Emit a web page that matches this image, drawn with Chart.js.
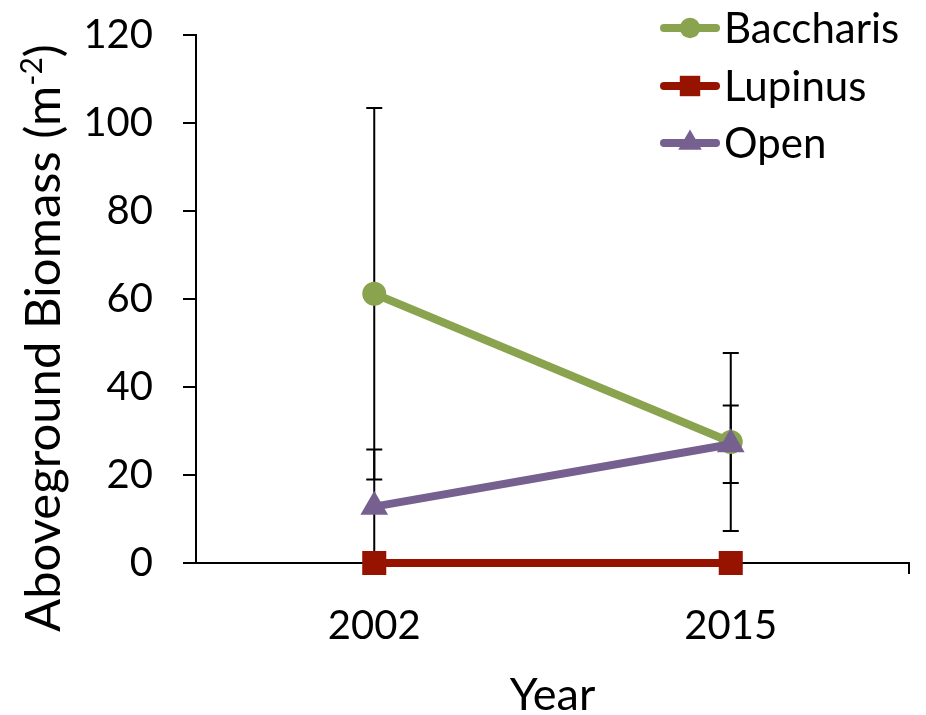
<!DOCTYPE html>
<html>
<head>
<meta charset="utf-8">
<script src="https://cdn.jsdelivr.net/npm/chart.js@4"></script>
<style>
  html, body { margin: 0; padding: 0; background: #fff; }
  #wrap { width: 926px; height: 715px; }
</style>
</head>
<body>
<div id="wrap"><canvas id="c" width="926" height="715"></canvas></div>
<script>
// Aboveground biomass by cover type, with error bars
const years = ['2002', '2015'];
const seriesNames = ['Baccharis', 'Lupinus', 'Open'];
const baccharis = [61.2, 27.5];
const baccharisErr = [42.2, 20.2];
const lupinus = [0, 0];
const lupinusErr = [0, 0];
const openPlots = [12.8, 27.0];
const openErr = [13.0, 8.8];
const yTicks = [0, 20, 40, 60, 80, 100, 120];
const xTitle = 'Year';
const yTitleMain = 'Aboveground Biomass (m';
const yTitleSup = '-2';
const yTitleEnd = ')';

const GREEN = '#8aa34e';
const RED = '#961300';
const PURPLE = '#76608f';
const FONT = 'Lato';

function drawMarker(ctx, style, r, x, y, color) {
  ctx.save();
  ctx.fillStyle = color;
  ctx.beginPath();
  if (style === 'circle') {
    ctx.arc(x, y, r, 0, Math.PI * 2);
  } else if (style === 'rect') {
    const s = Math.SQRT1_2 * r;
    ctx.rect(x - s, y - s, 2 * s, 2 * s);
  } else if (style === 'triangle') {
    let a = 0;
    ctx.moveTo(x + Math.sin(a) * r, y - Math.cos(a) * r);
    a += 2 * Math.PI / 3;
    ctx.lineTo(x + Math.sin(a) * r, y - Math.cos(a) * r);
    a += 2 * Math.PI / 3;
    ctx.lineTo(x + Math.sin(a) * r, y - Math.cos(a) * r);
    ctx.closePath();
  }
  ctx.fill();
  ctx.restore();
}

// vertical error bars with caps, drawn under the lines
const errorBars = {
  id: 'errorBars',
  beforeDatasetsDraw(chart) {
    const ctx = chart.ctx;
    const y = chart.scales.y;
    ctx.save();
    ctx.strokeStyle = '#000';
    ctx.lineWidth = 2;
    chart.data.datasets.forEach((ds, di) => {
      const meta = chart.getDatasetMeta(di);
      ds.errors.forEach((e, i) => {
        if (!e) return;
        const px = meta.data[i].x;
        const top = y.getPixelForValue(ds.data[i] + e);
        const bot = y.getPixelForValue(ds.data[i] - e);
        ctx.beginPath();
        ctx.moveTo(px, top); ctx.lineTo(px, bot);
        ctx.moveTo(px - 8, top); ctx.lineTo(px + 8, top);
        ctx.moveTo(px - 8, bot); ctx.lineTo(px + 8, bot);
        ctx.stroke();
      });
    });
    ctx.restore();
  }
};

// axis titles (with superscript unit) and line+marker legend
const decorations = {
  id: 'decorations',
  afterDraw(chart) {
    const ctx = chart.ctx;
    const area = chart.chartArea;
    ctx.save();
    ctx.fillStyle = '#000';
    ctx.textBaseline = 'alphabetic';

    // x title
    ctx.font = '45px ' + FONT;
    ctx.textAlign = 'center';
    ctx.fillText(xTitle, (area.left + area.right) / 2, 710);

    // y title, rotated
    const big = '49px ' + FONT, small = '30px ' + FONT;
    ctx.font = big;
    const w1 = ctx.measureText(yTitleMain).width;
    const w3 = ctx.measureText(yTitleEnd).width;
    ctx.font = small;
    const w2 = ctx.measureText(yTitleSup).width;
    const total = w1 + w2 + w3;
    ctx.translate(60, 338);
    ctx.rotate(-Math.PI / 2);
    ctx.textAlign = 'left';
    const x0 = -total / 2;
    ctx.font = big;
    ctx.fillText(yTitleMain, x0, 0);
    ctx.font = small;
    ctx.fillText(yTitleSup, x0 + w1, -18);
    ctx.font = big;
    ctx.fillText(yTitleEnd, x0 + w1 + w2, 0);
    ctx.setTransform(1, 0, 0, 1, 0, 0);

    // legend
    const rows = [28, 86, 143];
    ctx.font = '42px ' + FONT;
    ctx.textAlign = 'left';
    chart.data.datasets.forEach((ds, i) => {
      const ry = rows[i];
      ctx.strokeStyle = ds.borderColor;
      ctx.lineWidth = 8;
      ctx.lineCap = 'round';
      ctx.beginPath();
      ctx.moveTo(664, ry); ctx.lineTo(716, ry);
      ctx.stroke();
      drawMarker(ctx, ds.pointStyle, ds.pointRadius * 0.85, 690, ry, ds.borderColor);
      ctx.fillStyle = '#000';
      ctx.fillText(ds.label, 724, ry + 15);
    });
    ctx.restore();
  }
};

function makeChart() {
  new Chart(document.getElementById('c'), {
    type: 'line',
    data: {
      labels: years,
      datasets: [
        { label: seriesNames[0], data: baccharis, errors: baccharisErr, borderColor: GREEN, backgroundColor: GREEN,
          pointStyle: 'circle', pointRadius: 12, borderWidth: 8, pointBorderWidth: 0, order: 2, clip: false },
        { label: seriesNames[1], data: lupinus, errors: lupinusErr, borderColor: RED, backgroundColor: RED,
          pointStyle: 'rect', pointRadius: 17, borderWidth: 8, pointBorderWidth: 0, order: 1, clip: false },
        { label: seriesNames[2], data: openPlots, errors: openErr, borderColor: PURPLE, backgroundColor: PURPLE,
          pointStyle: 'triangle', pointRadius: 16, borderWidth: 8, pointBorderWidth: 0, order: 0, clip: false }
      ]
    },
    options: {
      responsive: false,
      animation: false,
      devicePixelRatio: 1,
      layout: { padding: { top: 35, right: 14, left: 0, bottom: 0 } },
      plugins: { legend: { display: false }, tooltip: { enabled: false } },
      elements: { line: { tension: 0 } },
      scales: {
        x: {
          type: 'category',
          offset: true,
          grid: {
            offset: true,
            drawOnChartArea: false,
            drawTicks: true,
            tickLength: 11,
            lineWidth: 2,
            color: c => c.type === 'scale' ? '#000' : 'rgba(0,0,0,0)'
          },
          border: { display: true, color: '#000', width: 2 },
          ticks: { color: '#000', font: { family: FONT, size: 40 }, padding: 28, maxRotation: 0 },
          afterFit: s => { s.height = 152; s.paddingLeft = 0; s.paddingRight = 0; }
        },
        y: {
          min: 0,
          max: 120,
          afterBuildTicks: s => { s.ticks = yTicks.map(v => ({ value: v })); },
          grid: { drawOnChartArea: false, drawTicks: true, tickLength: 13, lineWidth: 2, color: '#000' },
          border: { display: true, color: '#000', width: 2 },
          ticks: { color: '#000', font: { family: FONT, size: 40 }, padding: 30 },
          afterFit: s => { s.width = 196; s.paddingTop = 0; s.paddingBottom = 0; }
        }
      }
    },
    plugins: [errorBars, decorations]
  });
}

if (document.fonts && document.fonts.load) {
  Promise.all([document.fonts.load('40px Lato'), document.fonts.load('49px Lato')])
    .then(makeChart, makeChart);
} else {
  makeChart();
}
</script>
</body>
</html>
